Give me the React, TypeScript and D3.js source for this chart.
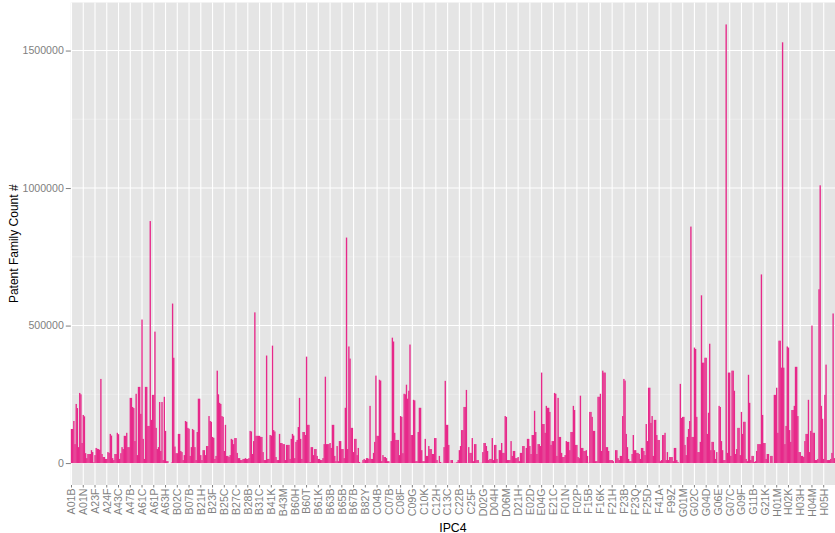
import React, { useEffect, useRef } from 'react';
import * as d3 from 'd3';

// every 10th IPC4 subclass gets a label on the x axis
const tickLabels = [
  'A01B', 'A01N', 'A23F', 'A24F', 'A43C', 'A47B', 'A61C', 'A61P', 'A63H', 'B02C',
  'B07B', 'B21H', 'B23F', 'B25C', 'B27C', 'B28B', 'B31C', 'B41K', 'B43M', 'B60H',
  'B60T', 'B61K', 'B63B', 'B65B', 'B67B', 'B82Y', 'C04B', 'C07B', 'C08F', 'C09G',
  'C10K', 'C12H', 'C13C', 'C22B', 'C25F', 'D02G', 'D04H', 'D06M', 'D21H', 'E02D',
  'E04G', 'E21C', 'F01N', 'F02P', 'F15B', 'F16K', 'F21H', 'F23B', 'F23Q', 'F25D',
  'F41A', 'F99Z', 'G01M', 'G02C', 'G04D', 'G06E', 'G07C', 'G09F', 'G11B', 'G21K',
  'H01M', 'H02K', 'H03H', 'H04M', 'H05H'
];

// patent family count per IPC4 subclass, in thousands
const countsK = [
  124, 124, 153, 69, 215, 200, 58, 255, 250, 73,
  175, 170, 36, 18, 33, 33, 33, 47, 40, 3,
  29, 55, 52, 51, 48, 306, 33, 22, 22, 15,
  15, 40, 37, 106, 100, 18, 11, 33, 33, 110,
  105, 15, 36, 58, 51, 99, 99, 110, 58, 58,
  237, 237, 204, 200, 80, 252, 29, 277, 277, 179,
  522, 88, 15, 277, 277, 135, 135, 880, 157, 248,
  248, 478, 128, 51, 58, 222, 44, 222, 11, 241,
  117, 7, 7, 0, 0, 2, 580, 383, 60, 36,
  36, 106, 106, 44, 40, 11, 29, 153, 150, 128,
  125, 26, 58, 124, 120, 58, 11, 113, 234, 234,
  29, 11, 47, 47, 29, 62, 62, 171, 153, 150,
  95, 92, 15, 26, 336, 250, 219, 215, 171, 168,
  44, 139, 26, 26, 22, 29, 88, 85, 69, 91,
  91, 37, 18, 18, 11, 11, 15, 15, 18, 15,
  15, 18, 117, 115, 33, 80, 548, 99, 99, 99,
  99, 95, 95, 40, 11, 11, 391, 15, 15, 102,
  100, 427, 120, 115, 22, 11, 11, 106, 73, 73,
  69, 69, 11, 66, 66, 66, 15, 88, 106, 100,
  18, 77, 84, 131, 237, 88, 15, 113, 113, 102,
  387, 139, 139, 4, 58, 58, 29, 51, 51, 26,
  15, 15, 11, 11, 18, 69, 314, 69, 69, 69,
  73, 55, 139, 139, 26, 7, 62, 7, 80, 80,
  51, 51, 18, 201, 820, 51, 424, 380, 128, 128,
  40, 88, 88, 29, 55, 4, 1, 1, 11, 15,
  11, 18, 18, 15, 208, 15, 15, 37, 77, 318,
  99, 99, 303, 300, 7, 29, 22, 22, 18, 7,
  7, 1, 80, 456, 442, 110, 84, 84, 84, 29,
  171, 168, 36, 252, 250, 285, 234, 263, 431, 102,
  102, 230, 228, 7, 7, 113, 201, 201, 47, 7,
  7, 88, 26, 26, 62, 51, 51, 33, 33, 91,
  91, 11, 1, 26, 4, 1, 1, 58, 299, 139,
  139, 66, 1, 11, 11, 1, 1, 1, 4, 11,
  47, 62, 120, 120, 204, 204, 266, 1, 58, 37,
  37, 91, 7, 69, 69, 11, 11, 1, 1, 1,
  40, 73, 73, 62, 44, 11, 15, 15, 91, 11,
  66, 66, 15, 1, 47, 47, 73, 37, 37, 171,
  168, 11, 11, 11, 80, 26, 44, 44, 18, 18,
  22, 7, 37, 37, 62, 62, 1, 55, 88, 88,
  62, 33, 102, 102, 190, 113, 33, 69, 69, 62,
  329, 142, 142, 110, 208, 201, 201, 186, 66, 80,
  80, 255, 252, 26, 237, 95, 95, 37, 22, 22,
  29, 80, 77, 77, 47, 113, 113, 208, 193, 66,
  66, 22, 18, 245, 55, 55, 44, 44, 47, 26,
  1, 186, 186, 168, 117, 117, 7, 7, 241, 241,
  252, 44, 336, 329, 329, 58, 58, 44, 11, 11,
  11, 7, 1, 47, 47, 18, 11, 26, 26, 171,
  306, 300, 106, 58, 15, 7, 7, 33, 102, 47,
  47, 37, 37, 33, 15, 55, 55, 44, 29, 142,
  80, 274, 274, 146, 171, 26, 157, 157, 102, 84,
  84, 7, 11, 102, 102, 110, 11, 40, 11, 22,
  22, 22, 7, 55, 55, 11, 4, 1, 288, 164,
  168, 168, 66, 29, 95, 124, 153, 860, 95, 95,
  420, 415, 168, 40, 40, 77, 610, 365, 365, 383,
  383, 106, 183, 434, 47, 77, 77, 47, 15, 40,
  1, 208, 204, 80, 47, 11, 11, 1595, 37, 329,
  329, 26, 336, 336, 263, 33, 51, 128, 128, 29,
  186, 106, 150, 150, 15, 7, 321, 219, 11, 26,
  26, 4, 7, 44, 69, 69, 69, 686, 175, 73,
  73, 15, 33, 33, 1, 26, 26, 1, 248, 248,
  274, 110, 445, 445, 347, 1530, 347, 69, 135, 424,
  420, 120, 77, 193, 193, 208, 350, 350, 171, 40,
  40, 26, 26, 22, 80, 106, 106, 230, 40, 117,
  500, 110, 110, 11, 11, 15, 632, 1010, 208, 161,
  15, 248, 358, 11, 11, 11, 15, 37, 544, 18
];

const yTicks = [0, 500000, 1000000, 1500000];
const yMinor = [250000, 750000, 1250000];

const W = 835;
const H = 533;
const FONT = '"Liberation Sans", Arial, Helvetica, sans-serif';

export default function App() {
  const ref = useRef<SVGSVGElement>(null);

  useEffect(() => {
    document.body.style.margin = '0';
    const data = countsK.map((v, i) => ({ i, count: v * 1000 }));
    const left = 70.8, right = 835, top = 2.5, bottom = 485;

    const svg = d3.select(ref.current);
    svg.selectAll('*').remove();

    const x = d3.scaleBand<number>()
      .domain(data.map(d => d.i))
      .range([left, right])
      .paddingInner(0.1)
      .paddingOuter(0.15);

    const maxV = d3.max(data, d => d.count) as number;
    const y = d3.scaleLinear()
      .domain([-0.05 * maxV, 1.05 * maxV])
      .range([bottom, top]);

    // panel background
    svg.append('rect')
      .attr('x', left).attr('y', top)
      .attr('width', right - left).attr('height', bottom - top)
      .attr('fill', '#E5E5E5');

    // grid
    svg.append('g').selectAll('line').data(yMinor).enter().append('line')
      .attr('x1', left).attr('x2', right)
      .attr('y1', d => y(d)).attr('y2', d => y(d))
      .attr('stroke', '#F2F2F2').attr('stroke-width', 0.6);

    svg.append('g').selectAll('line').data(yTicks).enter().append('line')
      .attr('x1', left).attr('x2', right)
      .attr('y1', d => y(d)).attr('y2', d => y(d))
      .attr('stroke', '#FFFFFF').attr('stroke-width', 1.1);

    const xTickIdx = tickLabels.map((_, k) => k * 10);
    svg.append('g').selectAll('line').data(xTickIdx).enter().append('line')
      .attr('x1', d => (x(d) as number) + x.bandwidth() / 2)
      .attr('x2', d => (x(d) as number) + x.bandwidth() / 2)
      .attr('y1', top).attr('y2', bottom)
      .attr('stroke', '#FFFFFF').attr('stroke-width', 1.1);

    // bars - a hair wider than the band so 1px bars don't look washed out
    const bw = x.bandwidth() + 0.3;
    svg.append('g').selectAll('rect').data(data).enter().append('rect')
      .attr('x', d => (x(d.i) as number) - 0.15)
      .attr('width', bw)
      .attr('y', d => y(d.count))
      .attr('height', d => y(0) - y(d.count))
      .attr('fill', '#E7298A');

    // y axis
    const gy = svg.append('g')
      .attr('transform', `translate(${left},0)`)
      .call(d3.axisLeft(y).tickValues(yTicks).tickSize(5).tickPadding(2).tickFormat(d3.format('d')));
    gy.select('.domain').remove();
    gy.selectAll('line').attr('stroke', '#7F7F7F');
    gy.selectAll('text')
      .attr('fill', '#7F7F7F')
      .style('font-family', FONT)
      .style('font-size', '10.6px');

    // x axis
    const gx = svg.append('g')
      .attr('transform', `translate(0,${bottom})`)
      .call(d3.axisBottom(x).tickValues(xTickIdx).tickSize(2.5)
        .tickFormat(d => tickLabels[(d as number) / 10]));
    gx.select('.domain').remove();
    gx.selectAll('line').attr('stroke', '#7F7F7F');
    gx.selectAll('text')
      .attr('transform', 'rotate(-90)')
      .attr('x', -3.5)
      .attr('y', 0)
      .attr('dy', '0.36em')
      .attr('text-anchor', 'end')
      .attr('fill', '#7F7F7F')
      .style('font-family', FONT)
      .style('font-size', '10.6px');

    // axis titles
    svg.append('text')
      .attr('x', (left + right) / 2).attr('y', 531.5)
      .attr('text-anchor', 'middle')
      .style('font-family', FONT).style('font-size', '12.3px')
      .attr('fill', '#000')
      .text('IPC4');

    svg.append('text')
      .attr('transform', `translate(17.5,${(top + bottom) / 2}) rotate(-90)`)
      .attr('text-anchor', 'middle')
      .style('font-family', FONT).style('font-size', '12px')
      .attr('fill', '#000')
      .text('Patent Family Count #');
  }, []);

  return (
    <svg ref={ref} width={W} height={H} style={{ display: 'block', background: '#fff' }} />
  );
}
